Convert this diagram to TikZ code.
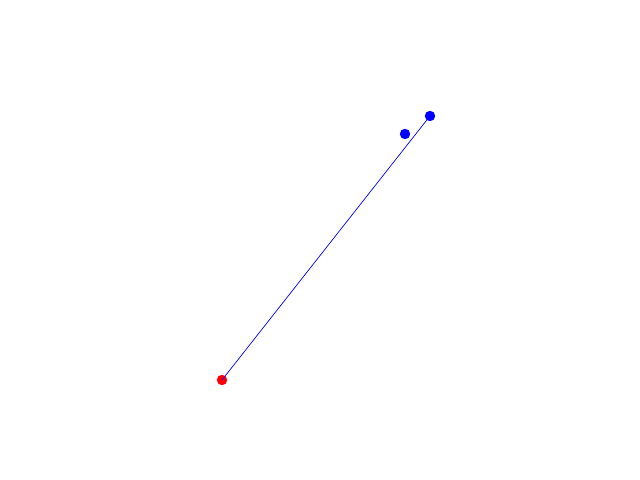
\documentclass[tikz,border=0pt]{standalone}
\begin{document}
\begin{tikzpicture}[x=0.025cm, y=0.025cm,
    dot/.style={circle, inner sep=0pt, minimum size=0.26cm}]
        % canvas
        \useasboundingbox (0,0) rectangle (640,480);
        % points
        \node[dot, fill=red] (start) at (222,100) {};
        \node[dot, fill=blue] (tip) at (430,364) {};
        \node[dot, fill=blue] (near) at (405,346) {};
        % segment
        \draw[blue, line width=0.5pt] (start.center) -- (tip.center);
      \end{tikzpicture}
\end{document}
